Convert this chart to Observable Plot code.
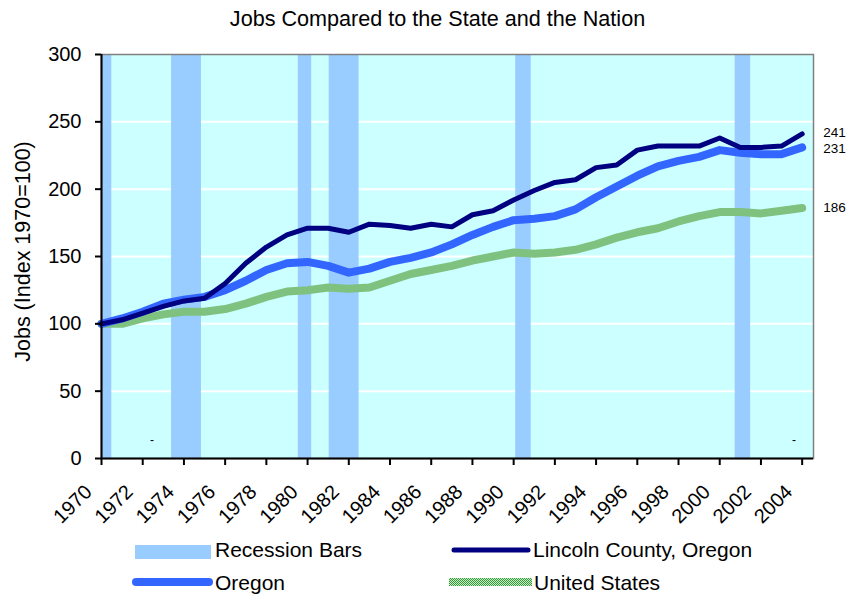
<!DOCTYPE html>
<html>
<head>
<meta charset="utf-8">
<script src="https://cdn.jsdelivr.net/npm/d3@7"></script>
<script src="https://cdn.jsdelivr.net/npm/@observablehq/plot@0.6"></script>
<style>
  body { margin: 0; background: #fff; font-family: Arial, "Liberation Sans", sans-serif; }
  #title { width: 835px; padding-left: 20px; height: 34px; padding-top: 2px; text-align: center; font-size: 21.6px; line-height: 34px; color: #000; }
  #legend { position: relative; width: 855px; height: 60px; }
</style>
</head>
<body>
<div id="title">Jobs Compared to the State and the Nation</div>
<div id="chart"></div>
<div id="legend"></div>
<script>
const years = [1970,1971,1972,1973,1974,1975,1976,1977,1978,1979,1980,1981,1982,1983,1984,1985,1986,1987,1988,1989,1990,1991,1992,1993,1994,1995,1996,1997,1998,1999,2000,2001,2002,2003,2004];
const lincoln = [100,103,108,113,117,119,130,145,157,166,171,171,168,174,173,171,174,172,181,184,192,199,205,207,216,218,229,232,232,232,238,231,231,232,241];
const oregon = [100,104,109,115,118,120,125,132,140,145,146,143,138,141,146,149,153,159,166,172,177,178,180,185,194,202,210,217,221,224,229,227,226,226,231];
const unitedStates = [100,100,104,107,109,109,111,115,120,124,125,127,126,127,132,137,140,143,147,150,153,152,153,155,159,164,168,171,176,180,183,183,182,184,186];
const recessionStart = [1970.0, 1973.4, 1979.55, 1981.05, 1990.1, 2000.75];
const recessionEnd   = [1970.5, 1974.85, 1980.2, 1982.5, 1990.85, 2001.5];
const yTicks = [0, 50, 100, 150, 200, 250, 300];
const gridValues = [50, 100, 150, 200, 250];
const xTicks = [1970,1972,1974,1976,1978,1980,1982,1984,1986,1988,1990,1992,1994,1996,1998,2000,2002,2004];
const strayMarksX = [1972.45, 2003.6];
const strayMarksY = [13.5, 13.5];
const yLabel = "Jobs (Index 1970=100)";

const seriesNames = ["Lincoln County, Oregon", "Oregon", "United States"];
const colors = { "Lincoln County, Oregon": "#000080", "Oregon": "#3366FF", "United States": "url(#usPattern)" };

const mk = (vals) => years.map((y, i) => ({ year: y, value: vals[i] }));
const dLincoln = mk(lincoln), dOregon = mk(oregon), dUS = mk(unitedStates);
const recessions = recessionStart.map((s, i) => ({ start: s, end: recessionEnd[i] }));
const endLabels = [
  { year: 2004, value: lincoln[lincoln.length - 1] },
  { year: 2004, value: oregon[oregon.length - 1] },
  { year: 2004, value: unitedStates[unitedStates.length - 1] }
];
const strays = strayMarksX.map((x, i) => ({ x, y: strayMarksY[i] }));

const patternDefs =
  '<rect width="2" height="2" fill="#C4EEC4"/>' +
  '<rect x="0" y="0" width="1" height="1" fill="#3A963A"/>' +
  '<rect x="1" y="1" width="1" height="1" fill="#3A963A"/>';

const chart = Plot.plot({
  width: 855,
  height: 500,
  marginTop: 18,
  marginLeft: 101,
  marginRight: 42,
  marginBottom: 78,
  style: { fontFamily: "Arial, 'Liberation Sans', sans-serif", fontSize: "20px", color: "#000", background: "#fff" },
  x: { domain: [1970, 2004.55], ticks: xTicks },
  y: { domain: [0, 300] },
  marks: [
    Plot.frame({ fill: "#CCFFFF", stroke: "none" }),
    Plot.ruleY(gridValues, { stroke: "#fff", strokeWidth: 2 }),
    Plot.rect(recessions, { x1: "start", x2: "end", fill: "#99CCFF" }),
    Plot.frame({ stroke: "#808080", strokeWidth: 1.5 }),
    Plot.line(dUS, { x: "year", y: "value", stroke: colors["United States"], strokeWidth: 8, strokeLinejoin: "round" }),
    Plot.line(dOregon, { x: "year", y: "value", stroke: colors["Oregon"], strokeWidth: 8, strokeLinejoin: "round", strokeLinecap: "round" }),
    Plot.line(dLincoln, { x: "year", y: "value", stroke: colors["Lincoln County, Oregon"], strokeWidth: 5, strokeLinejoin: "round", strokeLinecap: "round" }),
    Plot.text(endLabels.slice(0, 1), { x: "year", y: "value", text: d => String(d.value), dx: 21, dy: -1.5, textAnchor: "start", fontSize: 13.5 }),
    Plot.text(endLabels.slice(1, 2), { x: "year", y: "value", text: d => String(d.value), dx: 21, dy: 1.5, textAnchor: "start", fontSize: 13.5 }),
    Plot.text(endLabels.slice(2), { x: "year", y: "value", text: d => String(d.value), dx: 21, textAnchor: "start", fontSize: 13.5 }),
    Plot.text(strays, { x: "x", y: "y", text: () => "-", fontSize: 12 }),
    Plot.ruleX([1970], { stroke: "#000", strokeWidth: 2 }),
    Plot.ruleY([0], { stroke: "#000", strokeWidth: 2 }),
    Plot.axisY({ ticks: yTicks, tickSize: 6, tickPadding: 14, strokeWidth: 2, label: null, fontSize: 20 }),
    Plot.text([yLabel], { frameAnchor: "left", textAnchor: "middle", rotate: -90, dx: -78, dy: -5, fontSize: 21.5 }),
    Plot.axisX({ ticks: xTicks, tickSize: 7, strokeWidth: 2, tickFormat: () => "", label: null }),
    Plot.axisX({ ticks: xTicks, tickSize: 0, tickPadding: 13, tickRotate: -45, tickFormat: d => String(d), label: null, fontSize: 20, dx: -13, dy: 17 })
  ]
});

d3.select(chart).insert("defs", ":first-child").html(
  '<pattern id="usPattern" patternUnits="userSpaceOnUse" width="2" height="2">' + patternDefs + '</pattern>'
);
document.getElementById("chart").appendChild(chart);

// Legend
const leg = d3.select("#legend").append("svg").attr("width", 855).attr("height", 60)
  .style("font-family", "Arial, 'Liberation Sans', sans-serif").style("font-size", "21px");
leg.append("defs").html(
  '<pattern id="usPatternL" patternUnits="userSpaceOnUse" width="2" height="2">' + patternDefs + '</pattern>'
);
leg.append("rect").attr("x", 135).attr("y", 9).attr("width", 76).attr("height", 14).attr("fill", "#99CCFF");
leg.append("text").attr("x", 215).attr("y", 21).text("Recession Bars");
leg.append("line").attr("x1", 454).attr("x2", 528).attr("y1", 14).attr("y2", 14).attr("stroke", "#000080").attr("stroke-width", 5).attr("stroke-linecap", "round");
leg.append("text").attr("x", 533).attr("y", 21).text(seriesNames[0]);
leg.append("line").attr("x1", 136).attr("x2", 209).attr("y1", 46).attr("y2", 46).attr("stroke", "#3366FF").attr("stroke-width", 8).attr("stroke-linecap", "round");
leg.append("text").attr("x", 215).attr("y", 54).text(seriesNames[1]);
leg.append("rect").attr("x", 449).attr("y", 42).attr("width", 83).attr("height", 8).attr("fill", "url(#usPatternL)");
leg.append("text").attr("x", 534).attr("y", 54).text(seriesNames[2]);
</script>
</body>
</html>
